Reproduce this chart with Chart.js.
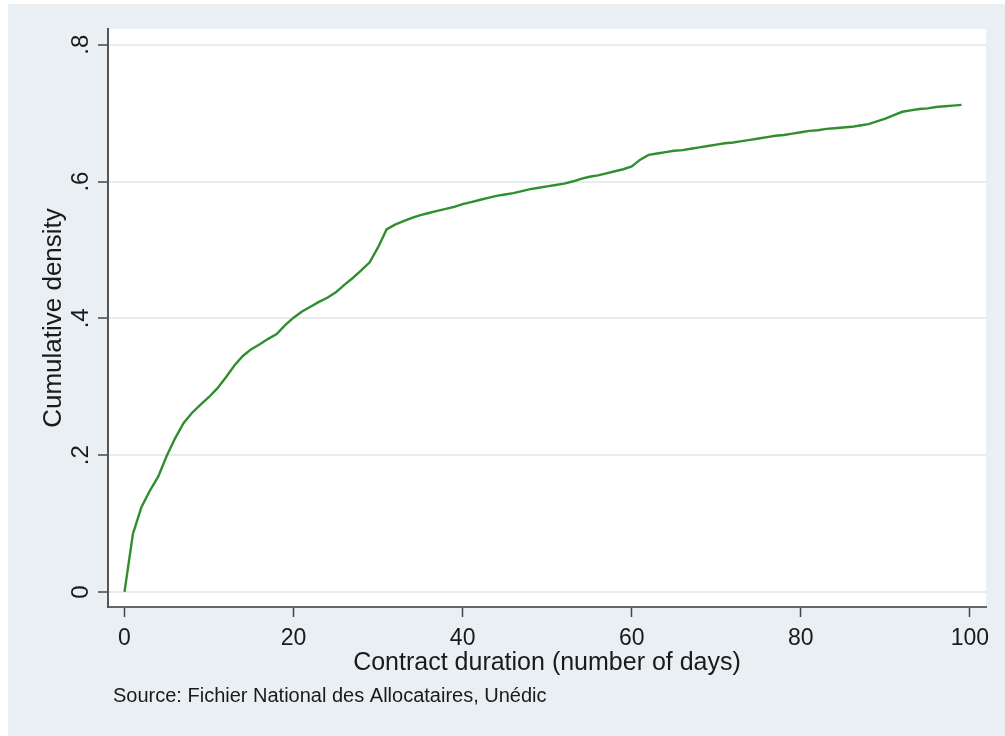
<!DOCTYPE html>
<html>
<head>
<meta charset="utf-8">
<title>Cumulative density of contract duration</title>
<script src="https://cdn.jsdelivr.net/npm/chart.js@4/dist/chart.umd.min.js"></script>
<style>
    body { margin: 0; background: #ffffff; }
    #wrap { width: 1005px; height: 736px; position: relative; }
</style>
</head>
<body>
<div id="wrap"><canvas id="cdf-chart"></canvas></div>
<script>
// Days of contract duration (x values)
const days = [
    0, 1, 2, 3, 4, 5, 6, 7, 8, 9,
    10, 11, 12, 13, 14, 15, 16, 17, 18, 19,
    20, 21, 22, 23, 24, 25, 26, 27, 28, 29,
    30, 31, 32, 33, 34, 35, 36, 37, 38, 39,
    40, 41, 42, 43, 44, 45, 46, 47, 48, 49,
    50, 51, 52, 53, 54, 55, 56, 57, 58, 59,
    60, 61, 62, 63, 64, 65, 66, 67, 68, 69,
    70, 71, 72, 73, 74, 75, 76, 77, 78, 79,
    80, 81, 82, 83, 84, 85, 86, 87, 88, 89,
    90, 91, 92, 93, 94, 95, 96, 97, 98, 99
];

// Cumulative density
const cumDensity = [
    0.000, 0.085, 0.124, 0.148, 0.169, 0.199, 0.225, 0.247, 0.262, 0.274,
    0.285, 0.298, 0.314, 0.331, 0.345, 0.355, 0.362, 0.370, 0.377, 0.390,
    0.401, 0.410, 0.417, 0.424, 0.430, 0.438, 0.449, 0.459, 0.470, 0.482,
    0.504, 0.530, 0.537, 0.542, 0.547, 0.551, 0.554, 0.557, 0.560, 0.563,
    0.567, 0.570, 0.573, 0.576, 0.579, 0.581, 0.583, 0.586, 0.589, 0.591,
    0.593, 0.595, 0.597, 0.600, 0.604, 0.607, 0.609, 0.612, 0.615, 0.618,
    0.622, 0.632, 0.639, 0.641, 0.643, 0.645, 0.646, 0.648, 0.650, 0.652,
    0.654, 0.656, 0.657, 0.659, 0.661, 0.663, 0.665, 0.667, 0.668, 0.670,
    0.672, 0.674, 0.675, 0.677, 0.678, 0.679, 0.680, 0.682, 0.684, 0.688,
    0.692, 0.697, 0.702, 0.704, 0.706, 0.707, 0.709, 0.710, 0.711, 0.712
];

// Tick values and labels
const xTickValues = [0, 20, 40, 60, 80, 100];
const xTickLabels = ['0', '20', '40', '60', '80', '100'];
const yTickValues = [0, 0.2, 0.4, 0.6, 0.8];
const yTickLabels = ['0', '.2', '.4', '.6', '.8'];

const xTitle = 'Contract duration (number of days)';
const yTitle = 'Cumulative density';
const sourceNote = 'Source: Fichier National des Allocataires, Unédic';

const FONT = 'Liberation Sans, Arial, Helvetica, sans-serif';

// Backgrounds, rotated y labels and the source note
const stataLook = {
    id: 'stataLook',
    beforeDraw(chart) {
        const ctx = chart.ctx;
        const area = chart.chartArea;
        ctx.save();
        ctx.fillStyle = '#ffffff';
        ctx.fillRect(0, 0, chart.width, chart.height);
        ctx.fillStyle = '#e9eff3';
        ctx.fillRect(8, 4, chart.width - 8, chart.height - 4);
        ctx.fillStyle = '#ffffff';
        ctx.fillRect(area.left, area.top, area.right - area.left, area.bottom - area.top);
        ctx.restore();
    },
    afterDraw(chart) {
        const ctx = chart.ctx;
        const yScale = chart.scales.y;
        ctx.save();
        ctx.fillStyle = '#1a1a1a';
        ctx.font = '24px ' + FONT;
        ctx.textAlign = 'center';
        ctx.textBaseline = 'alphabetic';
        yScale.ticks.forEach((tick, i) => {
            const py = yScale.getPixelForValue(tick.value);
            ctx.save();
            ctx.translate(88, py);
            ctx.rotate(-Math.PI / 2);
            ctx.fillText(yTickLabels[i], 0, 0);
            ctx.restore();
        });
        ctx.font = '20px ' + FONT;
        ctx.textAlign = 'left';
        ctx.fillText(sourceNote, 113, 702);
        ctx.restore();
    }
};

document.addEventListener('DOMContentLoaded', function() {
    const points = days.map((d, i) => ({ x: d, y: cumDensity[i] }));

    const ctx = document.getElementById('cdf-chart').getContext('2d');
    new Chart(ctx, {
        type: 'line',
        data: {
            datasets: [{
                data: points,
                borderColor: '#2f8f2f',
                borderWidth: 2.4,
                pointRadius: 0,
                tension: 0,
                fill: false
            }]
        },
        options: {
            responsive: true,
            maintainAspectRatio: false,
            animation: false,
            layout: {
                padding: { left: 0, top: 29, right: 19, bottom: 0 }
            },
            plugins: {
                legend: { display: false },
                tooltip: { enabled: false }
            },
            scales: {
                x: {
                    type: 'linear',
                    min: -1.95,
                    max: 101.9,
                    afterFit: function(scale) { scale.height = 129; },
                    afterBuildTicks: function(scale) {
                        scale.ticks = xTickValues.map(v => ({ value: v }));
                    },
                    border: { color: '#666666', width: 2 },
                    grid: {
                        drawOnChartArea: false,
                        drawTicks: true,
                        tickLength: 10,
                        tickColor: '#444444',
                        tickWidth: 1.5
                    },
                    ticks: {
                        padding: 8,
                        maxRotation: 0,
                        color: '#1a1a1a',
                        font: { family: FONT, size: 23 },
                        callback: function(value) {
                            const i = xTickValues.indexOf(value);
                            return i >= 0 ? xTickLabels[i] : '';
                        }
                    },
                    title: {
                        display: true,
                        text: xTitle,
                        color: '#1a1a1a',
                        font: { family: FONT, size: 25 },
                        padding: { top: 0, bottom: 58 }
                    }
                },
                y: {
                    type: 'linear',
                    min: -0.022,
                    max: 0.823,
                    afterFit: function(scale) { scale.width = 108; },
                    afterBuildTicks: function(scale) {
                        scale.ticks = yTickValues.map(v => ({ value: v }));
                    },
                    border: { color: '#555555', width: 2 },
                    grid: {
                        color: '#e8ecef',
                        lineWidth: 2,
                        drawTicks: true,
                        tickLength: 10,
                        tickColor: '#444444',
                        tickWidth: 1.5
                    },
                    ticks: { display: false },
                    title: {
                        display: true,
                        text: yTitle,
                        color: '#1a1a1a',
                        font: { family: FONT, size: 26 },
                        padding: { top: 38, bottom: 0 }
                    }
                }
            }
        },
        plugins: [stataLook]
    });
});
</script>
</body>
</html>
